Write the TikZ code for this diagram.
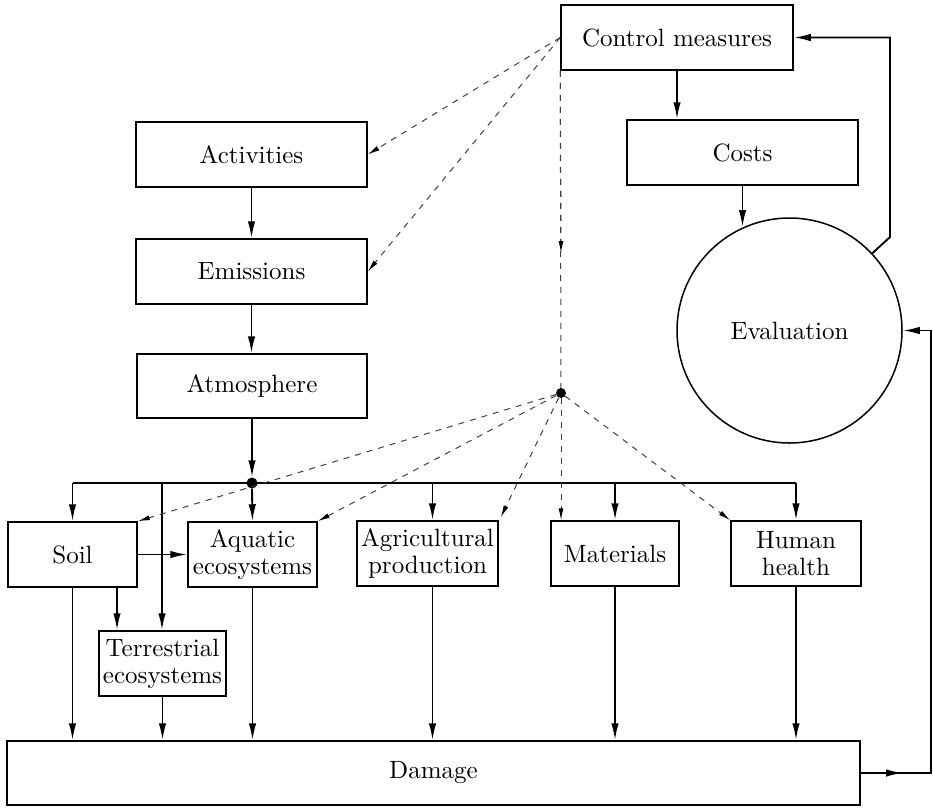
\documentclass[tikz,border=0pt]{standalone}
\usepackage{fontspec}
\setmainfont{lmroman10-regular.otf}
\usetikzlibrary{arrows.meta}
\begin{document}
\begin{tikzpicture}[x=1pt,y=-1pt,
  box/.style={draw, line width=1.5pt, inner sep=0pt, align=center,
    font=\fontsize{25}{27}\selectfont},
  flow/.style={line width=1.9pt, -{Latex[length=17pt,width=7.5pt]}},
  link/.style={line width=1.9pt},
  ctlline/.style={line width=1pt, draw=black!75, dash pattern=on 6pt off 6pt},
  ctl/.style={ctlline, -{Latex[length=12pt,width=5pt,fill=black,color=black]}},
  junction/.style={circle, fill, inner sep=0pt, minimum size=11pt},
]
\useasboundingbox (0,0) rectangle (933,807);

% policy side
\node[box, minimum width=232pt, minimum height=65pt] (ctrl) at (677,37.5) {Control measures};
\node[box, minimum width=231pt, minimum height=65pt] (costs) at (742.5,152.5) {Costs};
\node[draw, circle, line width=1.5pt, minimum size=225pt, inner sep=0pt,
      font=\fontsize{25}{27}\selectfont] (eval) at (789.5,330.5) {Evaluation};

% source chain
\node[box, minimum width=231pt, minimum height=65pt] (act) at (251.5,154.5) {Activities};
\node[box, minimum width=231pt, minimum height=65pt] (emis) at (251.5,271.5) {Emissions};
\node[box, minimum width=230pt, minimum height=64pt] (atmo) at (252,386) {Atmosphere};
\node[junction] (hub) at (252,483) {};
\node[junction, minimum size=10pt] (dot) at (561,393) {};

% receptors
\node[box, minimum width=129pt, minimum height=65pt] (soil) at (72.5,554.5) {Soil};
\node[box, minimum width=129pt, minimum height=65pt] (aqua) at (252.5,554.5) {Aquatic\\ecosystems};
\node[box, minimum width=141pt, minimum height=65pt] (agri) at (427.5,553.5) {Agricultural\\production};
\node[box, minimum width=128pt, minimum height=65pt] (mat) at (615,553.5) {Materials};
\node[box, minimum width=130pt, minimum height=65pt] (hum) at (796,553.5) {Human\\health};
\node[box, minimum width=127pt, minimum height=65pt] (terr) at (162.5,663.5) {Terrestrial\\ecosystems};
\node[box, minimum width=853pt, minimum height=64pt] (dmg) at (433.5,773) {Damage};

% main flow
\draw[flow] (act.south) -- (emis.north);
\draw[flow] (emis.south) -- (emis.south |- atmo.north);
\draw[flow] (atmo.south) -- (hub.north);
\draw[link] (soil.north |- hub) -- (hum.north |- hub);
\draw[flow] (soil.north |- hub) -- (soil.north);
\draw[flow] (hub.south) -- (aqua.north);
\draw[flow] ([xshift=5pt]agri.north |- hub) -- ([xshift=5pt]agri.north);
\draw[flow] (mat.north |- hub) -- (mat.north);
\draw[flow] (hum.north |- hub) -- (hum.north);
\coordinate (tb) at (162,483);
\draw[flow] (tb) -- (tb |- terr.north);
\draw[flow] (soil.east) -- (aqua.west);
\draw[flow] ([xshift=44.5pt]soil.south) -- ([xshift=44.5pt]soil.south |- terr.north);

% into damage
\draw[flow] (soil.south) -- (soil.south |- dmg.north);
\draw[flow] (terr.south) -- (terr.south |- dmg.north);
\draw[flow] (aqua.south) -- (aqua.south |- dmg.north);
\draw[flow] ([xshift=5pt]agri.south) -- ([xshift=5pt]agri.south |- dmg.north);
\draw[flow] (mat.south) -- (mat.south |- dmg.north);
\draw[flow] (hum.south) -- (hum.south |- dmg.north);

% evaluation loop
\draw[flow] (ctrl.south) -- (ctrl.south |- costs.north);
\draw[flow] (costs.south) -- (costs.south |- eval.114);
\coordinate (fbA) at (890,237);
\draw[flow] (eval.43) -- (fbA) |- (ctrl.east);
\coordinate (fbM) at (903,773);
\coordinate (fbB) at (931,773);
\draw[flow] (dmg.east) -- (fbB) |- (eval.east);
\draw[flow] (dmg.east) -- (fbM);

% control influences
\draw[ctl] (ctrl.west) -- (act.east);
\draw[ctl] (ctrl.west) -- (emis.east);
\coordinate (midC) at (561,253);
\draw[ctlline] (ctrl.south west) -- (dot);
\draw[ctl] (ctrl.south west) -- (midC);
\draw[ctl] (dot) -- (soil.north east);
\draw[ctl] (dot) -- (aqua.north east);
\draw[ctl] (dot) -- ([shift={(2,-3)}]agri.north east);
\draw[ctl] (dot) -- (dot |- mat.north);
\draw[ctl] (dot) -- (hum.north west);
\end{tikzpicture}
\end{document}
